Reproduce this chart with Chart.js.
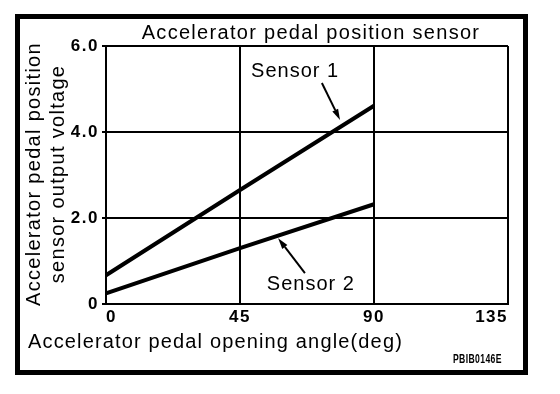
<!DOCTYPE html>
<html><head><meta charset="utf-8">
<script src="https://cdn.jsdelivr.net/npm/chart.js@4/dist/chart.umd.min.js"></script>
<style>html,body{margin:0;padding:0;background:#fff}#wrap{width:560px;height:394px}</style>
</head><body><div id="wrap"><canvas id="c" width="560" height="394"></canvas></div>
<script>
// ---- data ----
const angles = [0, 45, 90];
const sensor1 = [0.67, 2.65, 4.61];
const sensor2 = [0.25, 1.30, 2.32];
const xTicks = [0, 45, 90, 135];
const yTicks = [0, 2, 4, 6];
const yTickLabels = ['0', '2.0', '4.0', '6.0'];
const seriesNames = ['Sensor 1', 'Sensor 2'];
const chartTitle = 'Accelerator pedal position sensor';
const xTitle = 'Accelerator pedal opening angle(deg)';
const yTitle = ['Accelerator pedal position', 'sensor output voltage'];
const figureCode = 'PBIB0146E';
// callout anchors (data units)
const calloutText = [{x: 63.5, y: 5.28}, {x: 68.8, y: 0.33}];
const calloutFrom = [{x: 72.5, y: 5.14}, {x: 66.8, y: 0.72}];
const calloutTo = [{x: 78.6, y: 4.28}, {x: 57.8, y: 1.53}];

const FONT = "'Liberation Sans', Arial, Helvetica, sans-serif";

const decor = {
  id: 'decor',
  beforeDraw(chart) {
    const ctx = chart.ctx;
    ctx.save();
    ctx.fillStyle = '#fff';
    ctx.fillRect(0, 0, chart.width, chart.height);
    ctx.restore();
    ctx.letterSpacing = '1.5px';
  },
  afterDraw(chart) {
    const ctx = chart.ctx;
    const xs = chart.scales.x, ys = chart.scales.y;
    ctx.save();
    ctx.fillStyle = '#000';
    ctx.strokeStyle = '#000';
    // outer frame
    ctx.lineWidth = 5;
    ctx.strokeRect(17.5, 16.5, 508, 356);
    // title
    ctx.letterSpacing = '1.3px';
    ctx.font = '20px ' + FONT;
    ctx.textAlign = 'center';
    ctx.textBaseline = 'alphabetic';
    ctx.fillText(chartTitle, 311, 38.5);
    // x title
    ctx.textAlign = 'left';
    ctx.letterSpacing = '1.15px';
    ctx.fillText(xTitle, 28, 348);
    ctx.letterSpacing = '1.3px';
    // y title
    ctx.save();
    ctx.translate(40, 174);
    ctx.rotate(-Math.PI / 2);
    ctx.textAlign = 'center';
    ctx.fillText(yTitle[0], 0, 0);
    ctx.fillText(yTitle[1], 0, 24);
    ctx.restore();
    // callouts
    ctx.textAlign = 'center';
    ctx.letterSpacing = '1px';
    for (let i = 0; i < seriesNames.length; i++) {
      ctx.fillText(seriesNames[i], xs.getPixelForValue(calloutText[i].x), ys.getPixelForValue(calloutText[i].y));
      const x1 = xs.getPixelForValue(calloutFrom[i].x), y1 = ys.getPixelForValue(calloutFrom[i].y);
      const x2 = xs.getPixelForValue(calloutTo[i].x), y2 = ys.getPixelForValue(calloutTo[i].y);
      const ang = Math.atan2(y2 - y1, x2 - x1);
      const L = 11, W = 3.2;
      const bx = x2 - L * Math.cos(ang), by = y2 - L * Math.sin(ang);
      ctx.lineWidth = 2;
      ctx.beginPath();
      ctx.moveTo(x1, y1);
      ctx.lineTo(bx, by);
      ctx.stroke();
      ctx.beginPath();
      ctx.moveTo(x2, y2);
      ctx.lineTo(bx + W * Math.sin(ang), by - W * Math.cos(ang));
      ctx.lineTo(bx - W * Math.sin(ang), by + W * Math.cos(ang));
      ctx.closePath();
      ctx.fill();
    }
    // figure code
    ctx.save();
    ctx.letterSpacing = '0.5px';
    ctx.font = 'bold 12px ' + FONT;
    ctx.translate(453, 363);
    ctx.scale(0.72, 1);
    ctx.textAlign = 'left';
    ctx.fillText(figureCode, 0, 0);
    ctx.restore();
    ctx.restore();
  }
};

const tickFont = {family: FONT, size: 17, weight: 'bold'};

new Chart(document.getElementById('c').getContext('2d'), {
  type: 'line',
  data: {
    datasets: [
      {label: seriesNames[0], data: angles.map((a, i) => ({x: a, y: sensor1[i]})),
       borderColor: '#000', borderWidth: 4, pointRadius: 0, tension: 0, fill: false},
      {label: seriesNames[1], data: angles.map((a, i) => ({x: a, y: sensor2[i]})),
       borderColor: '#000', borderWidth: 4, pointRadius: 0, tension: 0, fill: false}
    ]
  },
  options: {
    responsive: false,
    animation: false,
    devicePixelRatio: 1,
    layout: {padding: {left: 0, top: 46, right: 52, bottom: 0}},
    plugins: {legend: {display: false}, tooltip: {enabled: false}, title: {display: false}},
    scales: {
      x: {
        type: 'linear', min: 0, max: 135,
        afterBuildTicks: s => { s.ticks = xTicks.map(v => ({value: v})); },
        afterFit: s => { s.height = 90; },
        grid: {color: '#000', lineWidth: 2, drawTicks: false},
        border: {color: '#000', width: 2},
        ticks: {color: '#000', font: tickFont, padding: 3, maxRotation: 0, autoSkip: false, align: 'inner',
                callback: v => String(v)}
      },
      y: {
        type: 'linear', min: 0, max: 6,
        afterBuildTicks: s => { s.ticks = yTicks.map(v => ({value: v})); },
        afterFit: s => { s.width = 106; },
        grid: {color: '#000', lineWidth: 2, tickLength: 4},
        border: {color: '#000', width: 2},
        ticks: {color: '#000', font: tickFont, padding: 3, autoSkip: false,
                callback: v => yTickLabels[yTicks.indexOf(v)]}
      }
    }
  },
  plugins: [decor]
});
</script>
</body></html>
